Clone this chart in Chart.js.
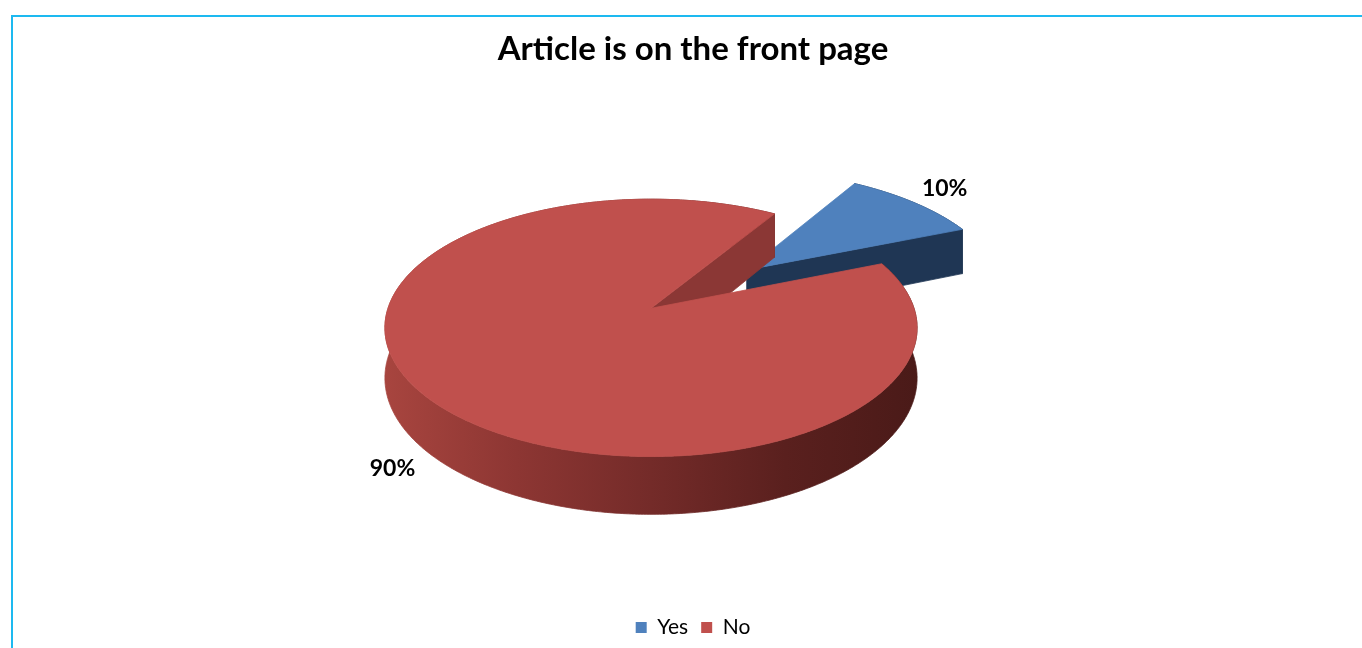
<!DOCTYPE html>
<html>
<head>
<meta charset="utf-8">
<title>Article is on the front page</title>
<script src="https://cdn.jsdelivr.net/npm/chart.js@4.4.0/dist/chart.umd.min.js"></script>
<style>
  html, body { margin: 0; padding: 0; background: #fff; overflow: hidden; }
  #frame {
    position: absolute; left: 11px; top: 15px; width: 1400px; height: 700px;
    border-left: 2px solid #1db9f0; border-top: 2px solid #1db9f0;
  }
  #chart { position: absolute; left: 0; top: 0; }
</style>
</head>
<body>
<div id="frame"></div>
<canvas id="chart" width="1362" height="648"></canvas>
<script>
// answers to "Article is on the front page", in percent
var answers = ["Yes", "No"];
var shares = [10, 90];

// face colours of each slice
var topColors = ["#4f81bd", "#c0504d"];
var cutColors = ["#1f3654", "#8b3735"];
var rimShades = [
  ["#1f3654", "#1f3654", "#1d3350", "#1b304b", "#1a2d47"],
  ["#a8453f", "#8d3633", "#742b29", "#5a201e", "#4a1a18"]
];

// draws the pie as a tilted slab, using the arcs Chart.js has laid out
var pie3d = {
  id: "pie3d",
  beforeDatasetsDraw: function (chart, args, opts) {
    var ctx = chart.ctx;
    var meta = chart.getDatasetMeta(0);
    var arcs = meta.data;
    var R = arcs[0].outerRadius;
    var cx = arcs[0].x + opts.shiftX;
    var cy = arcs[0].y + opts.shiftY;
    var t = opts.tilt, k = opts.perspective, D = opts.depth;

    function proj(X, Y, h) {
      var s = 1 / (1 - k * Y / R);
      return [cx + X * s, cy + (Y * t + h * D) * s];
    }
    function poly(pts, fill) {
      ctx.beginPath();
      ctx.moveTo(pts[0][0], pts[0][1]);
      for (var i = 1; i < pts.length; i++) ctx.lineTo(pts[i][0], pts[i][1]);
      ctx.closePath();
      ctx.fillStyle = fill;
      ctx.strokeStyle = fill;
      ctx.lineWidth = 0.8;
      ctx.lineJoin = "round";
      ctx.fill();
      ctx.stroke();
    }

    // far slices first
    var order = arcs.map(function (a, i) { return i; });
    order.sort(function (a, b) {
      var ma = (arcs[a].startAngle + arcs[a].endAngle) / 2;
      var mb = (arcs[b].startAngle + arcs[b].endAngle) / 2;
      return Math.sin(ma) - Math.sin(mb);
    });

    ctx.save();
    order.forEach(function (i) {
      var arc = arcs[i];
      var a1 = arc.startAngle, a2 = arc.endAngle, mid = (a1 + a2) / 2;
      var off = arc.options.offset || 0;
      var ox = Math.cos(mid) * off, oy = Math.sin(mid) * off;
      var steps = Math.max(12, Math.ceil((a2 - a1) / 0.01));
      var rimTop = [], rimBot = [];
      for (var j = 0; j <= steps; j++) {
        var th = a1 + (a2 - a1) * j / steps;
        var X = ox + R * Math.cos(th), Y = oy + R * Math.sin(th);
        rimTop.push(proj(X, Y, 0));
        rimBot.push(proj(X, Y, 1));
      }

      // outer wall
      var grad = ctx.createLinearGradient(cx - R * 1.02, 0, cx + R * 1.02, 0);
      var shades = rimShades[i];
      shades.forEach(function (c, n) { grad.addColorStop(n / (shades.length - 1), c); });
      poly(rimTop.concat(rimBot.slice().reverse()), grad);

      // cut faces that turn towards the viewer
      [[a1, Math.cos(a1) < 0], [a2, Math.cos(a2) > 0]].forEach(function (edge) {
        if (!edge[1]) return;
        var ex = ox + R * Math.cos(edge[0]), ey = oy + R * Math.sin(edge[0]);
        poly([proj(ox, oy, 0), proj(ex, ey, 0), proj(ex, ey, 1), proj(ox, oy, 1)], cutColors[i]);
      });

      // top face
      poly([proj(ox, oy, 0)].concat(rimTop), topColors[i]);
    });

    // percentage labels outside each slice
    var data = chart.data.datasets[0].data;
    var total = data.reduce(function (s, v) { return s + v; }, 0);
    ctx.font = "bold " + opts.labelSize + "px Lato";
    ctx.fillStyle = "#000";
    arcs.forEach(function (arc, i) {
      var mid = (arc.startAngle + arc.endAngle) / 2;
      var off = arc.options.offset || 0;
      var c = Math.cos(mid), s = Math.sin(mid);
      var p = proj(c * (off + R * opts.labelReach), s * (off + R * opts.labelReach), s > 0 ? 1 : 0);
      ctx.textAlign = c >= 0 ? "left" : "right";
      ctx.textBaseline = s < 0 ? "bottom" : "top";
      ctx.fillText(Math.round(data[i] / total * 100) + "%", p[0], p[1]);
    });
    ctx.restore();
    return false;
  }
};

new Chart(document.getElementById("chart"), {
  type: "pie",
  data: {
    labels: answers,
    datasets: [{
      data: shares,
      backgroundColor: topColors,
      borderWidth: 0,
      offset: [131, 0],
      radius: 263
    }]
  },
  options: {
    responsive: false,
    animation: false,
    events: [],
    rotation: 32,
    layout: { padding: { left: 24 } },
    plugins: {
      title: {
        display: true,
        text: "Article is on the front page",
        color: "#000",
        font: { family: "Lato", size: 33, weight: "bold" },
        padding: { top: 30, bottom: 10 }
      },
      legend: {
        position: "bottom",
        labels: {
          color: "#000",
          font: { family: "Lato", size: 21 },
          boxWidth: 11,
          boxHeight: 11,
          padding: 13
        }
      },
      tooltip: { enabled: false },
      pie3d: {
        shiftX: -42,
        shiftY: -33.5,
        tilt: 0.478,
        perspective: 0.152,
        depth: 49,
        labelReach: 1.05,
        labelSize: 23
      }
    }
  },
  plugins: [pie3d]
});
</script>
</body>
</html>
